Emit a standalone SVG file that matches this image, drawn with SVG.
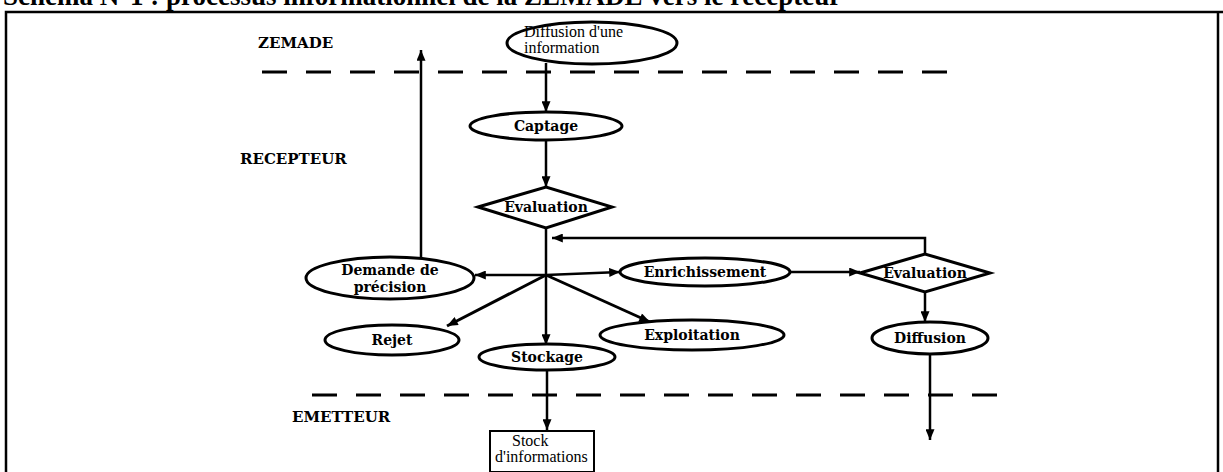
<svg xmlns="http://www.w3.org/2000/svg" width="1223" height="472" viewBox="0 0 1223 472">
<style>
.bg{fill:#fff}
.frame{fill:none;stroke:#000;stroke-width:2.5}
.node{fill:#fff;stroke:#000;stroke-width:3}
.box{fill:#fff;stroke:#000;stroke-width:2}
.lbl{font-family:"DejaVu Serif","Liberation Serif",serif;font-weight:bold;font-size:14px;fill:#000;text-anchor:middle}
.plain{font-family:"Liberation Serif",serif;font-size:16px;fill:#000}
.zone{font-family:"DejaVu Serif","Liberation Serif",serif;font-weight:bold;font-size:15px;fill:#000}
.title{font-family:"Liberation Serif",serif;font-weight:bold;font-size:27px;fill:#000}
.dash{stroke:#000;stroke-width:3;stroke-dasharray:25 19;fill:none}
.c{stroke:#000;stroke-width:2.5;fill:none}
</style>
<defs>
<marker id="ah" viewBox="0 0 12 10" refX="12" refY="5" markerWidth="12" markerHeight="9" markerUnits="userSpaceOnUse" orient="auto">
<path d="M0,0 L12,5 L0,10 z" fill="#000"/>
</marker>
</defs>
<rect class="bg" x="0" y="0" width="1223" height="472"/>
<text class="title" x="3" y="5">Schéma N°1 : processus informationnel de la ZEMADE vers le récepteur</text>
<path class="frame" d="M6,472 L6,12 L1223,12 M1218,12 L1218,472"/>

<g id="zones">
<text class="zone" x="258" y="48">ZEMADE</text>
<text class="zone" x="240" y="164">RECEPTEUR</text>
<text class="zone" x="292" y="422">EMETTEUR</text>
<line class="dash" x1="262" y1="72" x2="958" y2="72"/>
<line class="dash" x1="312" y1="395" x2="1008" y2="395"/>
</g>

<g id="connectors">
<line class="c" x1="546" y1="63" x2="546" y2="112" marker-end="url(#ah)"/>
<line class="c" x1="546" y1="140" x2="546" y2="187" marker-end="url(#ah)"/>
<line class="c" x1="546" y1="228" x2="546" y2="345" marker-end="url(#ah)"/>
<polyline class="c" points="925,254 925,238 552,238" marker-end="url(#ah)"/>
<line class="c" x1="546" y1="275" x2="475" y2="275" marker-end="url(#ah)"/>
<line class="c" x1="421" y1="257" x2="421" y2="50" marker-end="url(#ah)"/>
<line class="c" x1="546" y1="275" x2="620" y2="272" marker-end="url(#ah)"/>
<line class="c" x1="790" y1="272" x2="860" y2="272" marker-end="url(#ah)"/>
<line class="c" x1="925" y1="292" x2="925" y2="322" marker-end="url(#ah)"/>
<line class="c" x1="930" y1="354" x2="930" y2="440" marker-end="url(#ah)"/>
<line class="c" x1="546" y1="275" x2="447" y2="326" marker-end="url(#ah)" style="stroke-width:3"/>
<line class="c" x1="546" y1="275" x2="650" y2="322" marker-end="url(#ah)" style="stroke-width:3"/>
<line class="c" x1="547" y1="370" x2="547" y2="430" marker-end="url(#ah)"/>
</g>

<g id="diffusion-info">
<ellipse class="node" cx="592" cy="43" rx="85" ry="21"/>
<text class="plain" x="524" y="37">Diffusion d'une</text>
<text class="plain" x="524" y="53">information</text>
</g>
<g id="captage">
<ellipse class="node" cx="546" cy="126" rx="76" ry="14"/>
<text class="lbl" x="546" y="131">Captage</text>
</g>
<g id="evaluation1">
<polygon class="node" points="478,207 546,187 612,207 546,228"/>
<text class="lbl" x="546" y="212">Evaluation</text>
</g>
<g id="demande">
<ellipse class="node" cx="390" cy="278" rx="84" ry="21"/>
<text class="lbl" x="390" y="275">Demande de</text>
<text class="lbl" x="390" y="292">précision</text>
</g>
<g id="enrichissement">
<ellipse class="node" cx="705" cy="272" rx="85" ry="14"/>
<text class="lbl" x="705" y="277">Enrichissement</text>
</g>
<g id="evaluation2">
<polygon class="node" points="860,273 925,254 990,273 925,292"/>
<text class="lbl" x="925" y="278">Evaluation</text>
</g>
<g id="diffusion">
<ellipse class="node" cx="930" cy="338" rx="58" ry="16"/>
<text class="lbl" x="930" y="343">Diffusion</text>
</g>
<g id="rejet">
<ellipse class="node" cx="392" cy="340" rx="67" ry="15"/>
<text class="lbl" x="392" y="345">Rejet</text>
</g>
<g id="stockage">
<ellipse class="node" cx="547" cy="357" rx="68" ry="13"/>
<text class="lbl" x="547" y="362">Stockage</text>
</g>
<g id="exploitation">
<ellipse class="node" cx="692" cy="335" rx="92" ry="15"/>
<text class="lbl" x="692" y="340">Exploitation</text>
</g>
<g id="stock">
<rect class="box" x="490" y="431" width="104" height="41"/>
<text class="plain" x="512" y="446">Stock</text>
<text class="plain" x="495" y="462">d'informations</text>
</g>
</svg>
